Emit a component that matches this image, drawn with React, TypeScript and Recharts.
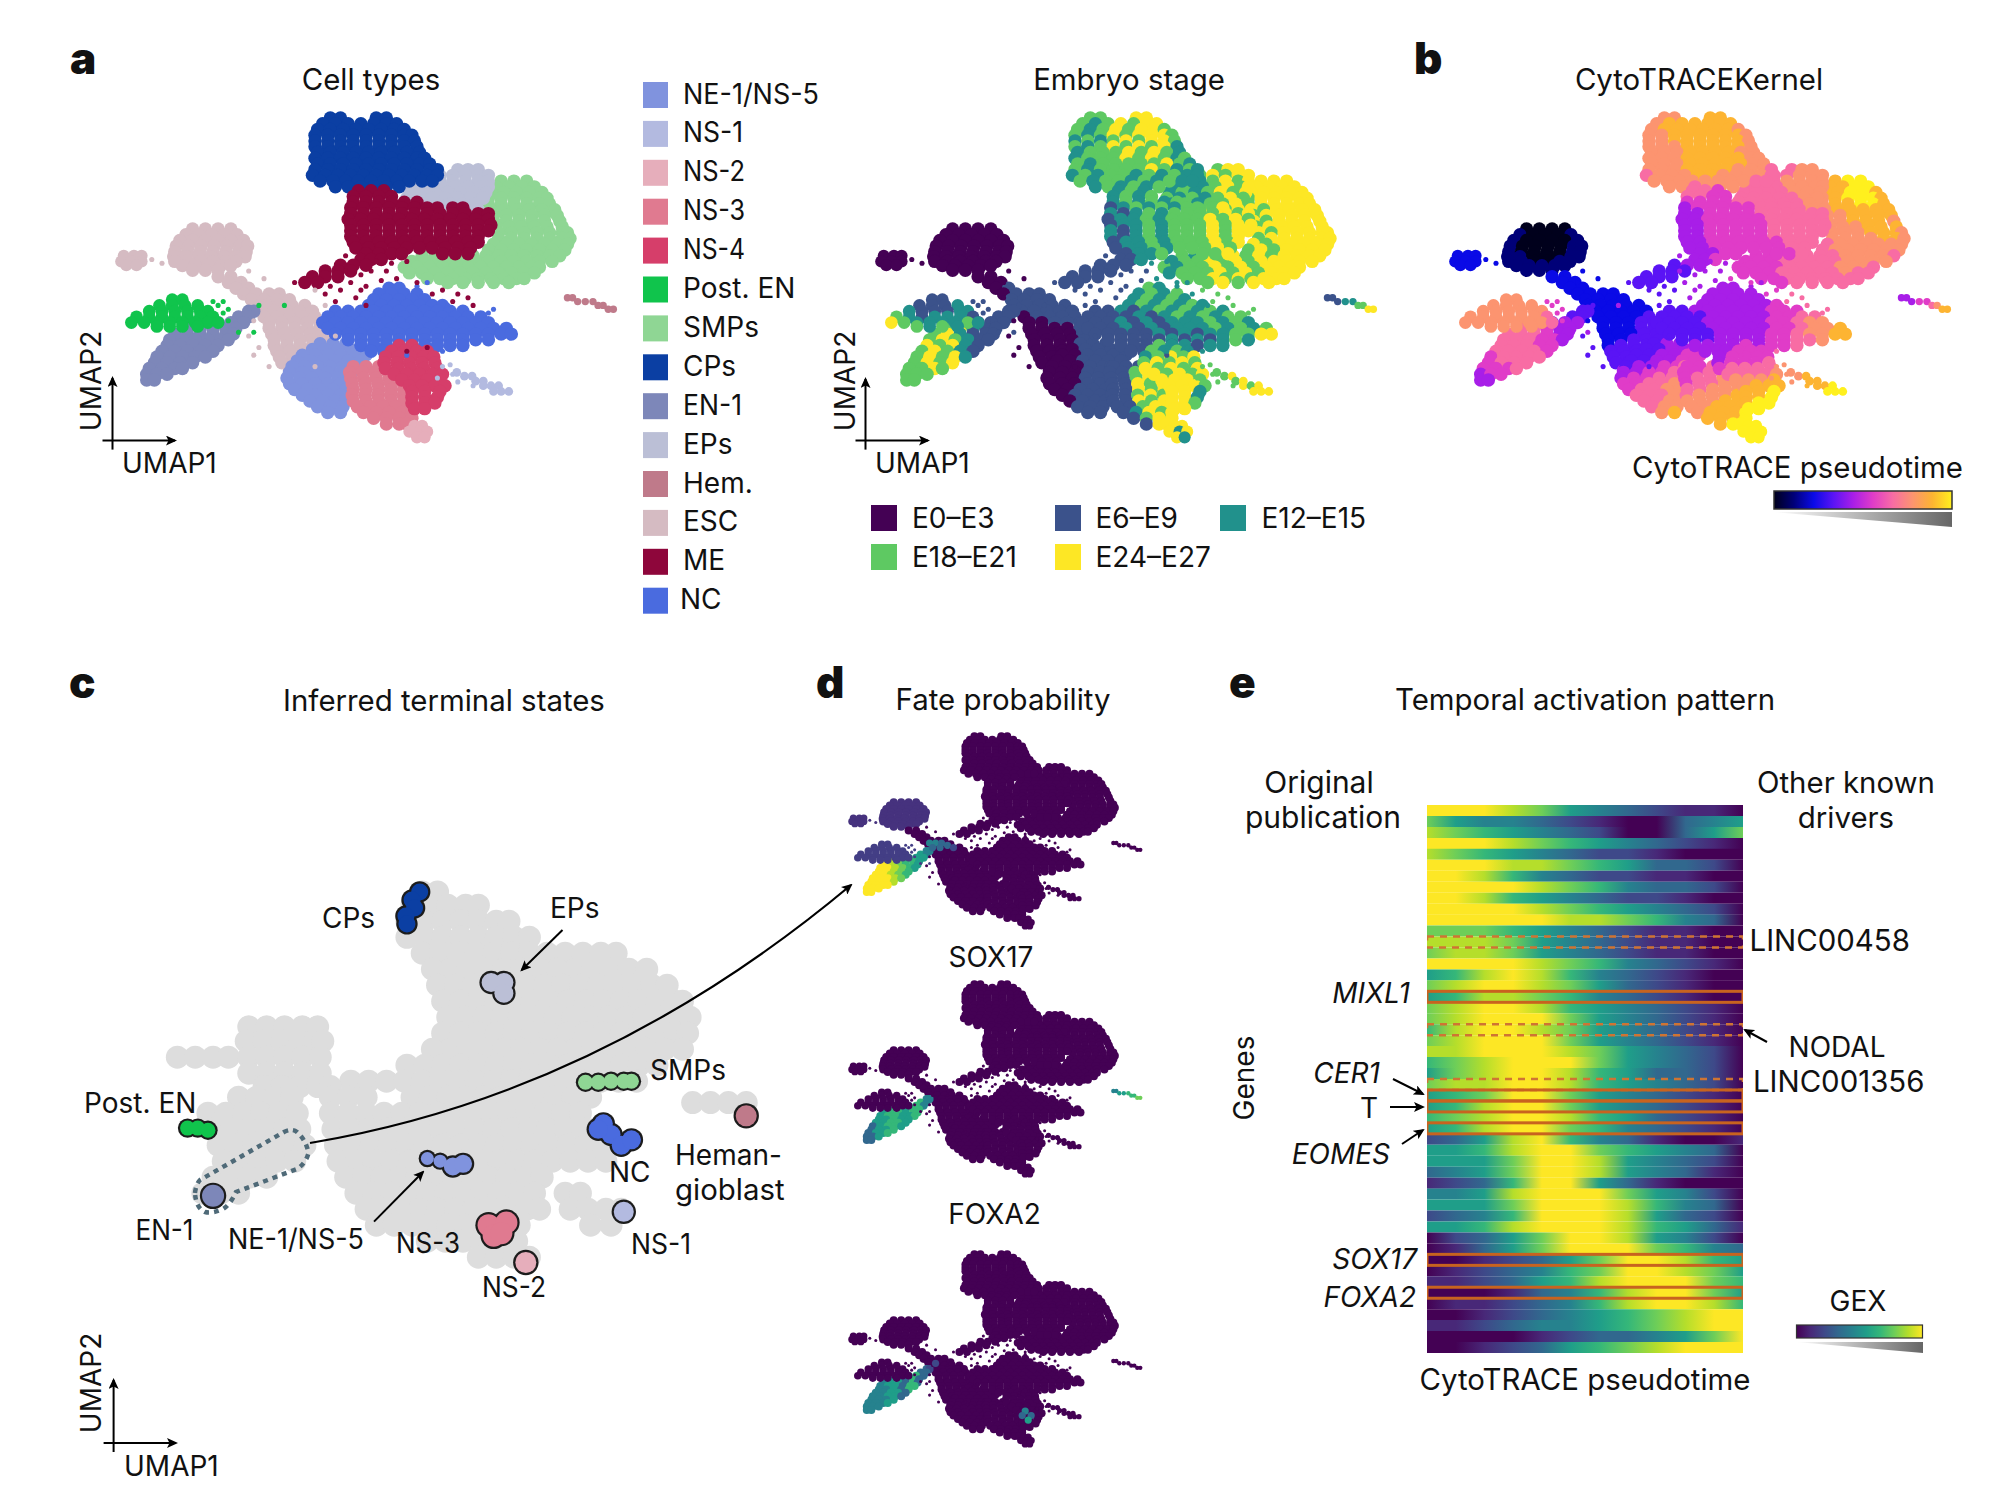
import React from 'react';
import { Bar, BarChart, Cell, Scatter, ScatterChart, XAxis, YAxis } from 'recharts';

type Row = [number, number[], string, string];
type Stray = [number, number, number, number];
type Pt = [number, number, number];

const FONT = 'Inter, "Noto Sans", sans-serif';

// ---- cell type colours and legends
const LEGEND_NAMES = ['NE-1/NS-5', 'NS-1', 'NS-2', 'NS-3', 'NS-4', 'Post. EN', 'SMPs', 'CPs', 'EN-1', 'EPs', 'Hem.', 'ESC', 'ME', 'NC'];
const LEGEND_WIDTHS = [136, 60, 62, 62, 62, 0, 0, 0, 59, 0, 0, 0, 0, 0];
const LEGEND_COLORS = ['#8093DE', '#B3BAE0', '#E6AEBB', '#E07A90', '#D63E6A', '#10C44C', '#8FD694', '#0B3FA3', '#7D87B9', '#BBBFD6', '#BF7A8A', '#D5BBC2', '#8E063B', '#4A6BDF'];
const STAGE_NAMES = ['E0–E3', 'E6–E9', 'E12–E15', 'E18–E21', 'E24–E27'];
const STAGE_COLORS = ['#440154', '#3B528B', '#21918C', '#5EC962', '#FDE725'];
const PSEUDO_RAMP = ['#00001c', '#000078', '#0a0ae6', '#5a14f5', '#a81ee8', '#e03cc8', '#f86ca4', '#fc9470', '#fdb432', '#fff01e'];
const VIRIDIS = ['#440154', '#482878', '#3e4989', '#31688e', '#26828e', '#1f9e89', '#35b779', '#6ece58', '#b5de2b', '#fde725'];

// ---- UMAP cells per cluster: y, x list, stage digit per x, pseudotime digit per x
const ESC: Row[] = [
  [52, [26, 28.5, 31, 33.5], '0000', '0000'],
  [53.5, [24.7, 27.2, 29.7, 32.2, 34.7], '00000', '10001'],
  [55, [23.5, 26, 28.5, 31, 33.5, 36], '000000', '100001'],
  [56.5, [22.8, 25.2, 27.7, 30.2, 32.7, 35.2, 36.8], '0000000', '1000011'],
  [58, [22.5, 25, 27.5, 30, 32.5, 35, 36.5], '0000000', '1000011'],
  [59.3, [22.3, 24.7, 27.2, 29.7, 32.2, 34.7, 36.3], '0000000', '1100011'],
  [60.5, [22.5, 25, 27.5, 30, 32.5, 34.5], '000000', '110011'],
  [61.6, [24, 26.5, 29, 31.5, 33.5], '00000', '11111'],
  [62.8, [26, 28.5, 31], '000', '111'],
  [64.5, [31, 33.5], '00', '22'],
  [66, [33, 35.5], '00', '22'],
  [67.5, [34.5, 37], '01', '22'],
  [69, [36, 38.5, 41, 43], '0111', '2222'],
  [70.5, [37.5, 40, 42.5, 45], '1111', '2222'],
  [72, [38, 40.5, 43, 45.5, 48], '11111', '22222'],
  [73.5, [39.5, 42, 44.5, 47, 49.5], '11111', '22222'],
  [75, [40, 42.5, 45, 47.5, 50], '01111', '22223'],
  [76.5, [41, 43.5, 46, 48.5, 51], '00111', '22233'],
  [78, [41, 43.5, 46, 48.5, 51, 53], '000011', '222333'],
  [79.5, [41.5, 44, 46.5, 49, 51.5], '00001', '22233'],
  [81, [42, 44.5, 47, 49.5, 52], '00001', '22333'],
  [82.5, [42, 44.5, 47, 49.5], '0000', '2333'],
  [84, [42.5, 45, 47.5, 50], '0000', '3333'],
  [85.5, [43, 45.5, 48], '000', '333'],
  [87, [43.5, 46, 48], '000', '334'],
  [89, [45, 47], '00', '44'],
];
const ESC_SMALL: Row[] = [
  [59, [12.5, 14.5, 16], '000', '222'],
  [60.5, [12, 14, 16], '000', '222'],
  [61.5, [13, 15], '00', '22'],
];
const EN1: Row[] = [
  [73.5, [37, 38], '11', '33'],
  [75, [35, 37], '11', '33'],
  [76.5, [31, 33.5, 36], '111', '344'],
  [78, [25, 27.5, 30, 32.5, 34.5], '34211', '66544'],
  [79.5, [22.5, 25, 27.5, 30, 32.5, 34], '342111', '666544'],
  [81, [21.5, 24, 26.5, 29, 31.5, 33], '343211', '666554'],
  [82.5, [21, 23.5, 26, 28.5, 31], '43421', '66655'],
  [84, [20, 22.5, 25, 27.5, 30], '34321', '66665'],
  [85.5, [19, 21.5, 24, 26.5, 28.5], '34342', '56666'],
  [87, [18.5, 21, 23.5, 26], '3434', '5666'],
  [88.5, [17.5, 20, 22.5, 24], '3343', '5556'],
  [90, [17, 19, 21], '333', '455'],
  [91.5, [17, 18.5], '33', '44'],
];
const POST_EN: Row[] = [
  [70.5, [22, 24], '11', '77'],
  [72, [19.5, 22, 24.5, 27], '1112', '7777'],
  [73.5, [17.5, 20, 22.5, 25, 27.5, 29], '211122', '777777'],
  [75, [15, 17.5, 20, 22.5, 25, 27.5, 30], '3212221', '7777776'],
  [76.5, [14, 16.5, 19, 21.5, 24, 26.5, 29, 31], '43222232', '77777776'],
  [77.5, [19, 21.5, 24, 27], '3232', '7777'],
];
const NE1: Row[] = [
  [82, [51, 53.5, 56], '111', '344'],
  [83.5, [49.5, 52, 54.5, 57, 59], '01111', '33445'],
  [85, [47.5, 50, 52.5, 55, 57.5, 60], '001111', '334455'],
  [86.5, [46.5, 49, 51.5, 54, 56.5, 59], '001111', '334455'],
  [88, [45.5, 48, 50.5, 53, 55.5, 57], '000111', '344556'],
  [89.5, [45, 47.5, 50, 52.5, 55, 57], '000111', '445566'],
  [91, [44.5, 47, 49.5, 52, 54.5, 57], '000111', '455667'],
  [92.5, [45, 47.5, 50, 52.5, 55, 57], '000111', '556677'],
  [94, [46, 48.5, 51, 53.5, 56], '00111', '56677'],
  [95.5, [47.5, 50, 52.5, 55, 57], '01111', '66677'],
  [97, [49, 51.5, 54, 56], '0111', '6677'],
  [98.5, [50.5, 53, 55.5], '111', '677'],
  [100, [52.5, 55], '11', '78'],
];
const NC: Row[] = [
  [67.5, [64.5, 66.5], '32', '44'],
  [69, [62.5, 65, 67.5, 70], '2323', '4444'],
  [70.5, [61.5, 64, 66.5, 69, 71.5], '23232', '44444'],
  [72, [60.5, 63, 65.5, 68, 70.5, 73, 75], '2323232', '4444445'],
  [73.5, [54, 56.5, 59, 61.5, 64, 66.5, 69, 71.5, 74, 76.5, 79], '11212323232', '33444444555'],
  [75, [52.5, 55, 57.5, 60, 62.5, 65, 67.5, 70, 72.5, 75, 77.5, 80, 82.5], '1111212323233', '3333444445566'],
  [76.5, [51.5, 54, 56.5, 59, 61.5, 64, 66.5, 69, 71.5, 74, 76.5, 79, 81.5, 84], '11121212223232', '33334444455677'],
  [78, [52.5, 55, 57.5, 60, 62.5, 65, 67.5, 70, 72.5, 75, 77.5, 80, 82.5, 85, 87.5], '111212122232323', '333344444556778'],
  [79.5, [54, 56.5, 59, 61.5, 64, 66.5, 69, 71.5, 74, 76.5, 79, 81.5, 84, 86.5, 88.5], '111112121223344', '333344445567788'],
  [81, [56.5, 59, 61.5, 64, 66.5, 69, 71.5, 74, 76.5, 79, 81.5, 84], '111112121232', '333444455667'],
  [82.5, [59, 61.5, 64, 66.5, 69, 71.5, 74, 76.5, 79], '111112122', '444444556'],
  [84, [61, 63.5, 66], '111', '444'],
];
const NS3: Row[] = [
  [88, [57.5, 60, 62.5], '111', '556'],
  [89.5, [56.8, 59.3, 61.8, 64.3], '1134', '5566'],
  [91, [57, 59.5, 62, 64.5, 67], '11343', '56677'],
  [92.5, [57.3, 59.8, 62.3, 64.8, 67.3], '11434', '56677'],
  [94, [57.5, 60, 62.5, 65, 67.5], '11434', '66777'],
  [95.5, [57.3, 59.8, 62.3, 64.8, 67.3], '11343', '67778'],
  [97, [57.5, 60, 62.5, 65, 67.5], '11434', '77788'],
  [98.5, [58.3, 60.8, 63.3, 65.8, 68.3], '11344', '77888'],
  [100, [59.5, 62, 64.5, 67, 69], '12434', '78889'],
  [101.5, [61.5, 64, 66.5, 69], '1344', '8889'],
  [103, [64, 66.5, 68], '144', '899'],
];
const NS4: Row[] = [
  [82.5, [66.5, 69], '32', '45'],
  [84, [65, 67.5, 70, 72], '3232', '4555'],
  [85.5, [63.8, 66.3, 68.8, 71.3, 73.3], '23434', '45555'],
  [87, [63.5, 66, 68.5, 71, 73.5], '34343', '45556'],
  [88.5, [63.8, 66.3, 68.8, 71.3, 74], '43434', '56666'],
  [90, [65.5, 68, 70.5, 73, 75], '43434', '66667'],
  [91.5, [67, 69.5, 72, 74.5], '4443', '7778'],
  [93, [68.5, 71, 73.5, 75.5], '4443', '7888'],
  [94.5, [69, 71.5, 74.5], '442', '889'],
  [96, [69, 71.5, 74], '442', '889'],
  [97.5, [69, 71.5, 73.5], '443', '899'],
  [99, [69.5, 71.5], '44', '99'],
];
const NS2: Row[] = [
  [103.5, [69.5, 71], '44', '99'],
  [105, [68.5, 70.5, 72], '424', '999'],
  [106.5, [70, 71.5], '42', '99'],
];
const NS1: Row[] = [
  [89.5, [77.8], '3', '7'],
  [90.5, [79.3, 80.8], '34', '78'],
  [91.8, [81.5, 83], '34', '88'],
  [93, [83, 84.5, 86], '434', '889'],
  [94.5, [85, 86.5, 88], '444', '999'],
];
const HEM: Row[] = [
  [70, [99.5, 100.5], '11', '44'],
  [71, [101.5, 103, 104.5], '122', '455'],
  [72, [105.5, 106.5], '33', '67'],
  [73, [107.5, 108.5], '44', '88'],
];
const SMPS: Row[] = [
  [39.5, [86.5, 89, 91.5], '444', '899'],
  [41, [85.5, 88, 90.5, 93], '4444', '8899'],
  [42.5, [84.5, 87, 89.5, 92, 94.5], '44444', '88998'],
  [44, [84, 86.5, 89, 91.5, 94, 95.5], '344444', '789998'],
  [45.5, [84, 86.5, 89, 91.5, 94, 96], '344444', '788998'],
  [47, [84.5, 87, 89.5, 92, 94.5, 97], '434444', '788888'],
  [48.5, [85, 87.5, 90, 92.5, 95, 97.5], '344444', '778888'],
  [50, [85, 87.5, 90, 92.5, 95, 98], '434444', '778887'],
  [51.5, [85.5, 88, 90.5, 93, 95.5, 98.5], '344444', '777888'],
  [53, [86, 88.5, 91, 93.5, 96, 98.5, 99.5], '4344444', '7778887'],
  [54.5, [86, 88.5, 91, 93.5, 96, 98.5, 100], '3444444', '7777887'],
  [56, [85, 87.5, 90, 92.5, 95, 97.5, 99.5], '4344444', '6777777'],
  [57.5, [84, 86.5, 89, 91.5, 94, 96.5, 99], '3434444', '6777777'],
  [59, [71, 73.5, 76, 78.5, 81, 83.5, 86, 88.5, 91, 93.5, 96, 98], '323343434444', '556666677776'],
  [60.5, [69, 71.5, 74, 76.5, 79, 81.5, 84, 86.5, 89, 91.5, 94, 96.5], '233434344444', '555666667777'],
  [62, [67.5, 70, 72.5, 75, 77.5, 80, 82.5, 85, 87.5, 90, 92.5, 94], '323343434444', '555566667776'],
  [63.5, [68.5, 71, 73.5, 76, 78.5, 81, 83.5, 86, 88.5, 91, 93], '23334343444', '55566666766'],
  [65, [72, 74.5, 77, 79.5, 82, 84.5, 87, 89.5, 91], '334343444', '556666666'],
  [66, [76, 79, 82, 85, 88], '34344', '56666'],
];
const EPS: Row[] = [
  [36.5, [78, 80, 82], '344', '677'],
  [38, [74.5, 77, 79.5, 82, 84], '34344', '66777'],
  [39.5, [72, 74.5, 77, 79.5, 82, 84], '323434', '667777'],
  [41, [70, 72.5, 75, 77.5, 80, 82.5, 84], '2323434', '6667777'],
  [42.5, [68.5, 71, 73.5, 76, 78.5, 81, 83.5], '2323434', '6666777'],
  [44, [68, 70.5, 73, 75.5, 78, 80.5, 83], '3232343', '6666677'],
  [45.5, [69, 71.5, 74, 76.5, 79, 81.5], '232334', '666667'],
  [47, [72, 74.5, 77, 79.5, 82], '33434', '66667'],
];
const CPS: Row[] = [
  [23, [53, 55, 62, 64], '3344', '7788'],
  [24.5, [51.5, 54, 56.5, 59, 61.5, 64, 66], '3234344', '7888888'],
  [26, [50.5, 53, 55.5, 58, 60.5, 63, 65.5, 67.5], '32343443', '78888887'],
  [27.5, [50, 52.5, 55, 57.5, 60, 62.5, 65, 67.5, 69], '323434443', '778888887'],
  [29, [50, 52.5, 55, 57.5, 60, 62.5, 65, 67.5, 69.5], '232343443', '778888887'],
  [30.5, [50, 52.5, 55, 57.5, 60, 62.5, 65, 67.5, 70], '323434342', '777888887'],
  [32, [50.5, 53, 55.5, 58, 60.5, 63, 65.5, 68, 70.5], '233343432', '777888877'],
  [33.5, [50, 52.5, 55, 57.5, 60, 62.5, 65, 67.5, 70, 71.5], '2333434323', '7778888877'],
  [35, [50.5, 53, 55.5, 58, 60.5, 63, 65.5, 68, 70.5, 72.5], '3233333432', '7778888877'],
  [36.5, [50, 52.5, 55, 57.5, 60, 62.5, 65, 67.5, 70, 72.5, 74], '32333343232', '77788887776'],
  [38, [49.5, 52, 54.5, 57, 59.5, 62, 64.5, 67, 69.5, 72, 74], '23233232322', '67778877776'],
  [39.5, [51, 53.5, 56, 58.5, 61, 63.5, 66, 68.5, 71, 73], '3233232322', '7777777766'],
  [41, [54, 56.5, 59, 61.5, 64, 66.5], '232323', '776777'],
];
const ME: Row[] = [
  [42, [58.5, 61, 63.5], '232', '665'],
  [43.5, [57.5, 60, 62.5, 65], '2323', '6655'],
  [45, [57.5, 60, 62.5, 65, 67.5, 70], '232323', '555566'],
  [46.5, [57, 59.5, 62, 64.5, 67, 69.5, 72, 74, 77, 79], '1232323334', '4555556666'],
  [48, [57, 59.5, 62, 64.5, 67, 69.5, 72, 74.5, 77, 79.5, 82, 84], '212323333434', '445555666666'],
  [49.5, [56.5, 59, 61.5, 64, 66.5, 69, 71.5, 74, 76.5, 79, 81.5, 84], '122323334343', '445555566666'],
  [51, [57, 59.5, 62, 64.5, 67, 69.5, 72, 74.5, 77, 79.5, 82, 84.5], '122323334344', '445555566666'],
  [52.5, [57, 59.5, 62, 64.5, 67, 69.5, 72, 74.5, 77, 79.5, 82, 84], '212323334344', '445555566666'],
  [54, [57, 59.5, 62, 64.5, 67, 69.5, 72, 74.5, 77, 79.5, 82], '21232333434', '44555556666'],
  [55.5, [57.5, 60, 62.5, 65, 67.5, 70, 72.5, 75, 77.5, 80, 82], '12232333434', '44555555666'],
  [57, [58, 60.5, 63, 65.5, 68, 70.5, 73, 75.5, 78, 80.5], '1223233343', '4455555566'],
  [58.5, [60, 62.5, 65, 67, 75, 77.5, 80], '1223334', '4455556'],
  [60, [59, 61, 63], '112', '445'],
  [61.5, [55, 57.5, 60], '111', '344'],
  [63, [52, 54.5, 57], '111', '333'],
  [64.5, [49.5, 52, 54.5], '111', '333'],
  [66, [48, 50.5], '11', '33'],
];

// stray single cells: x, y, stage, pseudotime
const ME_STRAY: Stray[] = [[46, 66, 1, 3], [56, 59, 1, 4], [59, 64, 1, 4], [61, 63, 1, 4], [64, 63, 1, 4], [66, 65, 2, 5], [60, 67, 1, 4], [58, 70, 1, 4], [60, 72, 2, 4], [70, 66, 2, 5], [75, 68, 3, 5], [78, 69, 3, 6], [80, 70, 3, 6], [81, 72, 3, 6], [68, 84, 2, 5], [72, 83, 2, 5], [55, 68, 1, 3], [53, 67, 1, 3], [63, 65.5, 1, 4], [57, 66, 1, 4], [54, 71, 1, 3], [62, 60.5, 2, 4], [65, 61, 2, 4], [68, 60.5, 2, 5], [59, 68, 1, 4], [56, 63, 1, 4], [52, 69, 1, 3], [73, 69, 2, 5], [77, 71, 3, 6]];
const ESC_STRAY: Stray[] = [[18, 60, 0, 2], [20, 61, 0, 2], [38, 76, 0, 2], [37, 80, 0, 3], [39, 83, 0, 3], [41, 88, 0, 3], [36, 66, 0, 2], [40, 65, 0, 2], [52, 72, 1, 3], [50, 68, 1, 3], [38, 85, 0, 3], [36, 70, 0, 2], [37, 63, 0, 2], [50, 88, 0, 3], [54, 80, 1, 3]];
const EN_STRAY: Stray[] = [[31, 72, 1, 5], [32, 74, 1, 5], [33, 76, 1, 5], [30, 71, 1, 5], [35, 79, 1, 4], [38, 79, 1, 4], [44, 72, 1, 4], [39, 72, 1, 3], [32, 71, 1, 5], [33, 73, 1, 5]];
const NS1_STRAY: Stray[] = [[75, 88, 3, 7], [77, 90, 3, 7], [74, 91, 3, 7], [78, 92, 3, 7], [81, 93, 3, 8], [76.5, 87.5, 3, 7]];
const NC_STRAY: Stray[] = [[72, 66, 2, 4], [70, 67, 2, 4], [76, 72, 2, 5], [84, 74, 3, 6], [68, 85, 1, 5], [85, 73, 3, 6], [75, 84, 2, 6]];

const CLUSTERS = [
  { rows: ESC, color: 11, size: 1, stray: ESC_STRAY },
  { rows: ESC_SMALL, color: 11, size: 0.9, stray: [] as Stray[] },
  { rows: EN1, color: 8, size: 1, stray: [] as Stray[] },
  { rows: POST_EN, color: 5, size: 0.95, stray: EN_STRAY },
  { rows: NE1, color: 0, size: 1, stray: [] as Stray[] },
  { rows: NC, color: 13, size: 1, stray: NC_STRAY },
  { rows: NS3, color: 3, size: 1, stray: [] as Stray[] },
  { rows: NS4, color: 4, size: 1, stray: [] as Stray[] },
  { rows: NS2, color: 2, size: 0.9, stray: [] as Stray[] },
  { rows: NS1, color: 1, size: 0.65, stray: NS1_STRAY },
  { rows: HEM, color: 10, size: 0.55, stray: [] as Stray[] },
  { rows: SMPS, color: 6, size: 1, stray: [] as Stray[] },
  { rows: EPS, color: 9, size: 1, stray: [] as Stray[] },
  { rows: CPS, color: 7, size: 1, stray: [] as Stray[] },
  { rows: ME, color: 12, size: 1, stray: ME_STRAY },
];

// ---- fate probability: viridis digit of a cluster by x band [x limit, digit]
const EN_COLOR = 8;
const HEM_COLOR = 10;
const FATE_EN_BANDS = [[25, 9], [27, 8], [30, 7], [33, 6], [37, 5], [42, 4]];
const FATE_SOX17_BANDS = [[20, 3], [24, 5], [28, 6], [32, 5], [36, 6], [42, 4]];
const FATE_FOXA2_BANDS = [[20, 4], [24, 4], [28, 5], [31, 3], [34, 6], [38, 3], [42, 2]];
const SOX17_HEM_BANDS = [[101, 4], [104, 5], [107, 6], [110, 7]];
const FATE_EN_EXTRA: Pt[] = [[38, 70, 4], [40, 70, 4], [42, 70, 3], [44, 71, 3], [46, 72, 2], [39, 72, 3], [41.5, 72, 3]];
const FATE_FOXA2_EXTRA: Pt[] = [[70, 92, 4], [72, 94, 3], [71, 96, 5], [69, 94, 3], [36, 75, 3], [40, 71, 2]];

// ---- panel c: grey cloud rows (y, x list) and terminal states
const GREY_ROWS: [number, number[]][] = [
  [43.5, [71, 74]],
  [46, [69, 72.5, 76, 79.5, 82]],
  [49, [68, 71.5, 75, 78.5, 82, 85.5, 88]],
  [52, [68, 71.5, 75, 78.5, 82, 85.5, 89, 92]],
  [55, [71, 74.5, 78, 81.5, 85, 88.5, 92, 95.5, 99, 102.5, 106, 109]],
  [58, [73, 76.5, 80, 83.5, 87, 90.5, 94, 97.5, 101, 104.5, 108, 111.5, 115]],
  [61, [74, 77.5, 81, 84.5, 88, 91.5, 95, 98.5, 102, 105.5, 109, 112.5, 116, 119]],
  [64, [75, 78.5, 82, 85.5, 89, 92.5, 96, 99.5, 103, 106.5, 110, 113.5, 117, 120.5, 122]],
  [67, [76, 79.5, 83, 86.5, 90, 93.5, 97, 100.5, 104, 107.5, 111, 114.5, 118, 121.5, 123.5]],
  [68.8, [37, 40.5, 44, 47.5, 50.5]],
  [70, [75, 78.5, 82, 85.5, 89, 92.5, 96, 99.5, 103, 106.5, 110, 113.5, 117, 120.5, 123]],
  [71.5, [36.5, 40, 43.5, 47, 50, 51.5]],
  [73, [73, 76.5, 80, 83.5, 87, 90.5, 94, 97.5, 101, 104.5, 108, 111.5, 115, 118.5, 122]],
  [74.5, [23, 26.5, 30, 33, 37, 40.5, 44, 47.5, 51]],
  [76, [68, 71.5, 75, 78.5, 82, 85.5, 89, 92.5, 96, 99.5, 103, 106.5, 110, 113.5, 117]],
  [77.5, [37, 40.5, 44, 47.5, 51]],
  [79, [57, 60.5, 64, 67.5, 71, 74.5, 78, 81.5, 85, 88.5, 92, 95.5, 99, 102.5, 106, 109.5, 113]],
  [80, [40, 43.5, 47, 50.5, 53]],
  [82, [35, 38.5, 42, 45.5, 53, 56.5, 60, 69, 72.5, 76, 79.5, 83, 86.5, 90, 93.5, 97, 100.5, 104]],
  [83, [124, 127.5, 131, 134.5]],
  [85, [29, 32.5, 36, 39.5, 43, 46.5, 53, 56.5, 60, 63.5, 67, 70.5, 74, 77.5, 81, 84.5, 88, 91.5, 95, 98.5, 102]],
  [88, [30, 33.5, 37, 40.5, 44, 47, 53.5, 57, 60.5, 64, 67.5, 71, 74.5, 78, 81.5, 85, 88.5, 92, 95.5, 99, 102.5, 105]],
  [91, [31, 34.5, 38, 41.5, 45, 48, 54, 57.5, 61, 64.5, 68, 71.5, 75, 78.5, 82, 85.5, 89, 92.5, 96, 99.5, 103, 106.5, 110]],
  [94, [32, 35.5, 39, 42.5, 46, 54.5, 58, 61.5, 65, 68.5, 72, 75.5, 79, 82.5, 86, 89.5, 93, 96.5, 100, 103.5, 107]],
  [97, [30, 33.5, 37, 40.5, 56, 59.5, 63, 66.5, 70, 73.5, 77, 80.5, 84, 87.5, 91, 94.5]],
  [100, [28, 31.5, 35, 58, 61.5, 65, 68.5, 72, 75.5, 79, 82.5, 86, 89.5, 93, 99, 102]],
  [103, [60, 63.5, 67, 70.5, 74, 77.5, 81, 84.5, 88, 91.5, 94, 100, 103.5, 107, 110]],
  [106, [62, 65.5, 69, 72.5, 76, 79.5, 83, 86.5, 90, 104, 108]],
  [109, [72, 75.5, 79, 82.5, 86, 89.5]],
  [112, [82, 85.5, 89, 92]],
];
const TERMINAL_STATES: { color: number; r: number; points: [number, number][] }[] = [
  { color: 7, r: 8.5, points: [[70.5, 43.5], [69, 45], [69.5, 46.5], [67.8, 48], [68, 49.5]] },
  { color: 9, r: 9.5, points: [[84.5, 60.5], [87, 60.5], [87, 62.5]] },
  { color: 6, r: 7.5, points: [[103, 79.2], [105.5, 79.2], [108, 79], [110.5, 79], [112, 79]] },
  { color: 5, r: 7.5, points: [[25, 87.8], [27, 87.8], [29, 88.2]] },
  { color: 10, r: 10.5, points: [[134.5, 85.5]] },
  { color: 13, r: 9.5, points: [[106.5, 87], [108, 89], [110, 91], [112, 90], [105.5, 88]] },
  { color: 8, r: 11, points: [[30, 100.5]] },
  { color: 0, r: 6.5, points: [[72, 93.5], [74.5, 94]] },
  { color: 0, r: 9, points: [[77, 95], [79, 94.5]] },
  { color: 3, r: 11, points: [[84, 106], [87.5, 105.5], [85, 108], [86.5, 107.5]] },
  { color: 2, r: 10.5, points: [[91.3, 113]] },
  { color: 1, r: 10, points: [[110.5, 103.5]] },
];

// ---- panel e: 50 genes x 12 pseudotime bins, GEX level 0-9
const GEX_ROWS = [
  '999875432110', '754432100345', '876543200357', '999876543210', '876543221000',
  '999887653320', '998643221100', '999987643320', '998654322100', '999987654320',
  '999998876430', '777654321100', '888754321100', '788754321100', '999987643210',
  '568986432100', '789987532100', '568876432100', '789986543210', '789997543210',
  '689987543210', '789997543210', '889998754320', '678999754320', '578998653320',
  '788998654320', '567997543210', '568997543210', '678998653210', '568997643210',
  '235896431001', '556899765430', '555799854320', '345799854310', '123699531000',
  '445899975420', '555799986430', '234699985320', '556899986531', '023579985420',
  '013579997643', '001235799865', '012346799875', '112356899976', '000134689975',
  '011234689986', '001234567899', '112344567899', '000012334579', '001235678999',
];
const BOXES: Record<number, 'solid' | 'dash'> = { 12: 'dash', 17: 'solid', 20: 'dash', 25: 'dash', 26: 'solid', 27: 'solid', 29: 'solid', 41: 'solid', 44: 'solid' };

const digitAt = (s: string, i: number) => +(s[i] ?? s[s.length - 1]);

const cellPoints = (colorOf: (colorIdx: number, s: number, p: number, x: number, y: number) => string) => {
  const pts: { x: number; y: number; fill: string; r: number }[] = [];
  CLUSTERS.forEach((c) => {
    c.rows.forEach(([y, xs, s, p]) => {
      xs.forEach((x, i) => pts.push({ x, y, fill: colorOf(c.color, digitAt(s, i), digitAt(p, i), x, y), r: c.size }));
    });
  });
  CLUSTERS.forEach((c) => {
    c.stray.forEach(([x, y, s, p]) => pts.push({ x, y, fill: colorOf(c.color, s, p, x, y), r: 0.38 }));
  });
  return pts;
};

const band = (bands: number[][], x: number) => {
  const hit = bands.find(([limit]) => x < limit);
  return VIRIDIS[hit ? hit[1] : bands[bands.length - 1][1]];
};

const dot = (radius: number) => (props: any) => (
  <circle cx={props.cx} cy={props.cy} r={radius * props.payload.r} fill={props.payload.fill} />
);

function UmapPanel({ left, top, sx = 1, sy = 1, radius = 6.7, points, extra }: any) {
  return (
    <div style={{ position: 'absolute', left, top }}>
      <ScatterChart width={561 * sx} height={459 * sy} margin={{ top: 0, right: 0, bottom: 0, left: 0 }}>
        <XAxis type="number" dataKey="x" domain={[0, 110]} hide />
        <YAxis type="number" dataKey="y" domain={[0, 120]} reversed hide />
        <Scatter data={points} shape={dot(radius)} isAnimationActive={false} />
        {extra ? <Scatter data={extra} shape={dot(radius)} isAnimationActive={false} /> : null}
      </ScatterChart>
    </div>
  );
}

function TerminalPanel() {
  const grey = GREY_ROWS.flatMap(([y, xs]) => xs.map((x) => ({ x, y, fill: '#DDDDDD', r: 11.5 })));
  const outer = TERMINAL_STATES.flatMap((t) => t.points.map(([x, y]) => ({ x, y, fill: '#1c1c1c', r: t.r + 2.2 })));
  const inner = TERMINAL_STATES.flatMap((t) => t.points.map(([x, y]) => ({ x, y, fill: LEGEND_COLORS[t.color], r: t.r })));
  return (
    <div style={{ position: 'absolute', left: 60, top: 660 }}>
      <ScatterChart width={800} height={836} margin={{ top: 0, right: 0, bottom: 0, left: 0 }}>
        <XAxis type="number" dataKey="x" domain={[0, 156.8]} hide />
        <YAxis type="number" dataKey="y" domain={[0, 156.8]} reversed hide />
        <Scatter data={grey} shape={dot(1)} isAnimationActive={false} />
        <Scatter data={outer} shape={dot(1)} isAnimationActive={false} />
        <Scatter data={inner} shape={dot(1)} isAnimationActive={false} />
      </ScatterChart>
    </div>
  );
}

function Heatmap() {
  const rows = GEX_ROWS.map((levels, i) => ({ gene: i, span: 1, levels }));
  return (
    <>
      <div style={{ position: 'absolute', left: 1427, top: 805 }}>
        <BarChart width={316} height={548} data={rows} layout="vertical" barCategoryGap={0} margin={{ top: 0, right: 0, bottom: 0, left: 0 }}>
          <defs>
            {rows.map((r) => (
              <linearGradient key={r.gene} id={`gex-${r.gene}`} x1="0" x2="1" y1="0" y2="0">
                {r.levels.split('').map((d, k) => (
                  <stop key={k} offset={k / (r.levels.length - 1)} stopColor={VIRIDIS[+d]} />
                ))}
              </linearGradient>
            ))}
          </defs>
          <XAxis type="number" domain={[0, 1]} hide />
          <YAxis type="category" dataKey="gene" hide />
          <Bar dataKey="span" isAnimationActive={false}>
            {rows.map((r) => (
              <Cell key={r.gene} fill={`url(#gex-${r.gene})`} />
            ))}
          </Bar>
        </BarChart>
      </div>
      <div style={{ position: 'absolute', left: 1427, top: 805 }}>
        <BarChart width={316} height={548} data={rows.map((r) => ({ ...r, box: BOXES[r.gene] ? 1 : null, kind: BOXES[r.gene] }))} layout="vertical" barCategoryGap={0} margin={{ top: 0, right: 0, bottom: 0, left: 0 }} style={{ overflow: 'visible' }}>
          <XAxis type="number" domain={[0, 1]} hide />
          <YAxis type="category" dataKey="gene" hide />
          <Bar
            dataKey="box"
            isAnimationActive={false}
            shape={(p: any) =>
              p.payload.box ? (
                <rect
                  x={p.x}
                  y={p.y}
                  width={p.width}
                  height={p.height}
                  fill="none"
                  stroke={p.payload.kind === 'dash' ? '#CF7433' : '#C8631F'}
                  strokeWidth={p.payload.kind === 'dash' ? 2.5 : 3}
                  strokeDasharray={p.payload.kind === 'dash' ? '7 6' : undefined}
                />
              ) : (
                <g />
              )
            }
          />
        </BarChart>
      </div>
    </>
  );
}

// ---- overlay helpers
const Label = ({ x, y, children, anchor = 'start', size = 28, italic = false, weight = 400, rotate = false, len = 0 }: any) => (
  <text
    x={x}
    y={y}
    textAnchor={anchor}
    fontFamily={FONT}
    fontSize={size}
    fontStyle={italic ? 'italic' : 'normal'}
    fontWeight={weight}
    fill="#111"
    transform={rotate ? `rotate(-90 ${x} ${y})` : undefined}
    {...(len ? { textLength: len, lengthAdjust: 'spacingAndGlyphs' } : {})}
  >
    {children}
  </text>
);
const Arrow = ({ d, width = 2 }: any) => <path d={d} fill="none" stroke="#000" strokeWidth={width} markerEnd="url(#head)" />;

const UmapAxes = ({ x, y, up, right, textX, textY, labelX, labelY }: any) => (
  <>
    <Arrow d={`M${x} ${y + 9} L${x} ${up}`} />
    <Arrow d={`M${x - 10} ${y} L${right} ${y}`} />
    <Label x={textX} y={textY} anchor="middle" rotate>UMAP2</Label>
    <Label x={labelX} y={labelY}>UMAP1</Label>
  </>
);

function Overlay() {
  const stageSlots = [[871, 505, 912, 527.5], [1055, 505, 1095.5, 527.5], [1220, 505, 1261.5, 527.5], [871, 544, 912, 566.5], [1055, 544, 1095.5, 566.5]];
  const wide = 29.4;
  return (
    <svg width={1994} height={1496} style={{ position: 'absolute', left: 0, top: 0 }}>
      <defs>
        <marker id="head" markerWidth="11" markerHeight="10" refX="9" refY="5" orient="auto" markerUnits="userSpaceOnUse">
          <path d="M0 0 L11 5 L0 10 L2.5 5 Z" fill="#000" />
        </marker>
        <linearGradient id="ptBar" x1="0" x2="1" y1="0" y2="0">
          {PSEUDO_RAMP.map((c, i) => <stop key={c} offset={i / (PSEUDO_RAMP.length - 1)} stopColor={c} />)}
        </linearGradient>
        <linearGradient id="gexBar" x1="0" x2="1" y1="0" y2="0">
          {VIRIDIS.map((c, i) => <stop key={c} offset={i / (VIRIDIS.length - 1)} stopColor={c} />)}
        </linearGradient>
        <linearGradient id="wedge" x1="0" x2="1" y1="0" y2="0">
          <stop offset="0" stopColor="#ffffff" />
          <stop offset="1" stopColor="#666666" />
        </linearGradient>
      </defs>

      <Label x={70} y={74} size={44} weight={900}>a</Label>
      <Label x={1414} y={74} size={44} weight={900}>b</Label>
      <Label x={69} y={698} size={44} weight={900}>c</Label>
      <Label x={816} y={698} size={44} weight={900}>d</Label>
      <Label x={1229} y={698} size={44} weight={900}>e</Label>

      <Label x={371} y={90} anchor="middle" size={wide}>Cell types</Label>
      <Label x={1129} y={90} anchor="middle" size={wide}>Embryo stage</Label>
      <Label x={1699} y={90} anchor="middle" size={wide}>CytoTRACEKernel</Label>

      {LEGEND_NAMES.map((n, i) => (
        <g key={n}>
          <rect x={643} y={82 + i * 38.9} width={25} height={26} fill={LEGEND_COLORS[i]} />
          <Label x={n === 'NC' ? 680 : 683} y={103.5 + i * 38.9} len={LEGEND_WIDTHS[i]}>{n}</Label>
        </g>
      ))}
      {STAGE_NAMES.map((n, i) => (
        <g key={n}>
          <rect x={stageSlots[i][0]} y={stageSlots[i][1]} width={26} height={26} fill={STAGE_COLORS[i]} />
          <Label x={stageSlots[i][2]} y={stageSlots[i][3]}>{n}</Label>
        </g>
      ))}

      <UmapAxes x={112.5} y={440.6} up={378} right={175} textX={101} textY={381} labelX={122} labelY={473} />
      <UmapAxes x={865.5} y={440.6} up={379} right={928} textX={855} textY={381} labelX={875} labelY={473} />
      <UmapAxes x={113.6} y={1443} up={1380} right={176} textX={101} textY={1383} labelX={124} labelY={1476} />

      <Label x={1963} y={478} anchor="end" size={wide}>CytoTRACE pseudotime</Label>
      <rect x={1774} y={491} width={178} height={18} fill="url(#ptBar)" stroke="#333" strokeWidth={1.5} />
      <path d="M1773 512 L1952 512 L1952 527 Z" fill="url(#wedge)" />

      <Label x={444} y={711} anchor="middle" size={wide}>Inferred terminal states</Label>
      <Label x={322} y={928}>CPs</Label>
      <Label x={550} y={917.6}>EPs</Label>
      <Label x={650} y={1080}>SMPs</Label>
      <Label x={84} y={1113}>Post. EN</Label>
      <Label x={675} y={1165}>Heman-</Label>
      <Label x={675} y={1200} size={wide}>gioblast</Label>
      <Label x={609} y={1181.6}>NC</Label>
      <Label x={135.5} y={1240} len={58}>EN-1</Label>
      <Label x={228} y={1249} len={136}>NE-1/NS-5</Label>
      <Label x={396} y={1253} len={64}>NS-3</Label>
      <Label x={482} y={1297} len={64}>NS-2</Label>
      <Label x={631} y={1253.6} len={60}>NS-1</Label>
      <Arrow d="M562.5 930 L521.7 970" />
      <Arrow d="M374 1221.6 L423 1172" />
      <path d="M195 1193 Q196 1184 200 1180 L284 1132 Q292 1128 297 1132 Q306 1140 308.5 1153 Q306 1163 297 1169 L236 1192 Q230 1205 223 1209 Q212 1214 205 1212 Q196 1208 195 1193 Z" fill="none" stroke="#4f6a78" strokeWidth={4.5} strokeDasharray="5 5" />
      <Arrow d="M310 1143 Q600 1095 851 885" width={2.2} />

      <Label x={1003} y={710} anchor="middle" size={wide}>Fate probability</Label>
      <Label x={991} y={967} anchor="middle">SOX17</Label>
      <Label x={994.6} y={1224} anchor="middle">FOXA2</Label>

      <Label x={1585} y={710} anchor="middle" size={wide}>Temporal activation pattern</Label>
      <Label x={1319} y={792.5} anchor="middle" size={30}>Original</Label>
      <Label x={1323} y={828} anchor="middle" size={30}>publication</Label>
      <Label x={1846} y={792.5} anchor="middle" size={wide}>Other known</Label>
      <Label x={1846} y={828} anchor="middle" size={wide}>drivers</Label>
      <Label x={1253.5} y={1078} anchor="middle" rotate>Genes</Label>
      <Label x={1749.6} y={951} size={wide}>LINC00458</Label>
      <Label x={1410} y={1003} anchor="end" italic>MIXL1</Label>
      <Label x={1788.6} y={1057}>NODAL</Label>
      <Label x={1753} y={1092} size={wide}>LINC001356</Label>
      <Label x={1380} y={1083} anchor="end" italic>CER1</Label>
      <Label x={1378} y={1117.6} anchor="end">T</Label>
      <Label x={1390} y={1163.5} anchor="end" italic>EOMES</Label>
      <Label x={1417} y={1269} anchor="end" italic>SOX17</Label>
      <Label x={1416} y={1307} anchor="end" italic>FOXA2</Label>
      <Arrow d="M1393 1079 L1423 1094" />
      <Arrow d="M1390 1107 L1423 1107" />
      <Arrow d="M1402 1144 L1423 1130" />
      <Arrow d="M1767 1042 L1745 1030" />
      <Label x={1858} y={1311} anchor="middle">GEX</Label>
      <Label x={1585} y={1390} anchor="middle" size={wide}>CytoTRACE pseudotime</Label>
      <rect x={1796.5} y={1325} width={126} height={13} fill="url(#gexBar)" stroke="#333" strokeWidth={1.2} />
      <path d="M1796 1342 L1923 1342 L1923 1353 Z" fill="url(#wedge)" />
    </svg>
  );
}

export default function App() {
  const typePoints = cellPoints((c) => LEGEND_COLORS[c]);
  const stagePoints = cellPoints((_c, s) => STAGE_COLORS[s]);
  const pseudoPoints = cellPoints((_c, _s, p) => PSEUDO_RAMP[p]);
  const fateEn = cellPoints((c, _s, _p, x, y) => {
    if (c === EN_COLOR) return band(FATE_EN_BANDS, x);
    if (c === 5) return '#433e85';
    if (c === 11 && y < 63) return '#46327e';
    return VIRIDIS[0];
  });
  const fateSox = cellPoints((c, _s, _p, x) => {
    if (c === EN_COLOR) return band(FATE_SOX17_BANDS, x);
    if (c === HEM_COLOR) return band(SOX17_HEM_BANDS, x);
    return VIRIDIS[0];
  });
  const fateFox = cellPoints((c, _s, _p, x) => (c === EN_COLOR ? band(FATE_FOXA2_BANDS, x) : VIRIDIS[0]));
  const toFate = (list: Pt[]) => list.map(([x, y, v]) => ({ x, y, fill: VIRIDIS[v], r: 0.9 }));
  return (
    <div style={{ position: 'absolute', left: 0, top: 0, width: 1994, height: 1496, background: '#fff', overflow: 'hidden' }}>
      <UmapPanel left={60} top={30} points={typePoints} />
      <UmapPanel left={820} top={30} points={stagePoints} />
      <UmapPanel left={1394} top={30} points={pseudoPoints} />
      <TerminalPanel />
      <UmapPanel left={816} top={683.5} sx={0.586} sy={0.594} radius={4} points={fateEn} extra={toFate(FATE_EN_EXTRA)} />
      <UmapPanel left={816} top={931.5} sx={0.586} sy={0.594} radius={4} points={fateSox} />
      <UmapPanel left={816} top={1201.5} sx={0.586} sy={0.594} radius={4} points={fateFox} extra={toFate(FATE_FOXA2_EXTRA)} />
      <Heatmap />
      <Overlay />
    </div>
  );
}
